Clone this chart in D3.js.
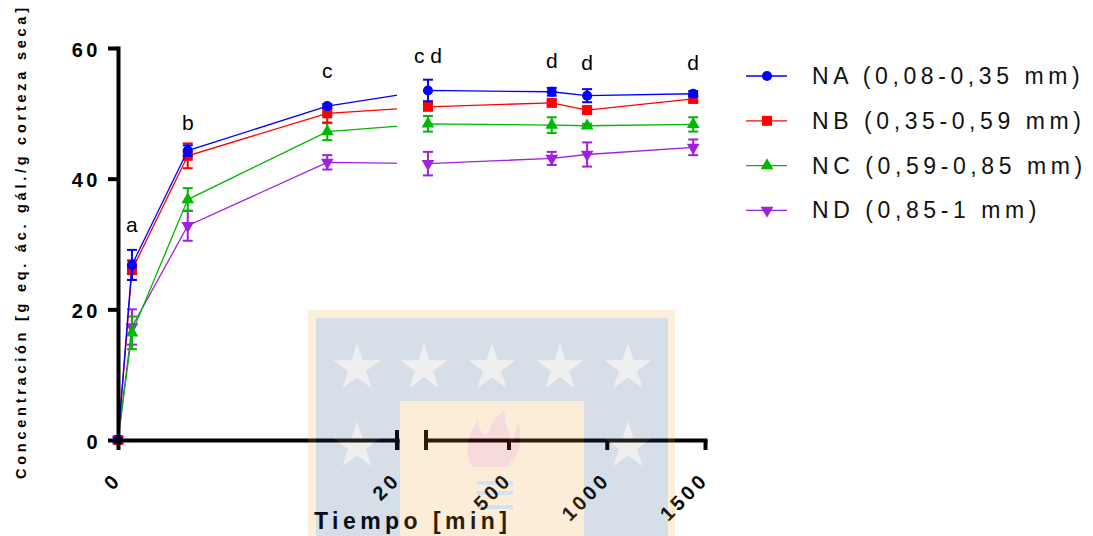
<!DOCTYPE html>
<html>
<head>
<meta charset="utf-8">
<script src="https://cdn.jsdelivr.net/npm/d3@7"></script>
<style>
  body { margin: 0; background: #fff; }
  svg { display: block; font-family: "Liberation Sans", Arial, sans-serif; }
</style>
</head>
<body>
<div id="chart"></div>
<script>
// sampling times [min]
const times = [0, 1, 5, 15, 90, 720, 900, 1440];

// mean concentration and error per particle size
const naMean = [0, 26.8, 44.3, 51.1, 53.5, 53.3, 52.7, 53.0];
const naErr  = [0, 2.3, 0.8, 0.3, 1.65, 0.6, 1.0, 0.4];
const nbMean = [0, 26.0, 43.5, 50.0, 51.0, 51.6, 50.5, 52.2];
const nbErr  = [0, 1.5, 1.9, 1.4, 0.4, 0.4, 0.4, 0.4];
const ncMean = [0, 16.4, 36.8, 47.2, 48.4, 48.2, 48.1, 48.3];
const ncErr  = [0, 2.5, 1.75, 1.3, 1.2, 1.2, 0.3, 1.1];
const ndMean = [0, 17.3, 32.8, 42.5, 42.3, 43.1, 43.7, 44.8];
const ndErr  = [0, 2.7, 2.3, 1.1, 1.8, 1.0, 1.85, 1.2];

const seriesNames = ['NA (0,08-0,35 mm)', 'NB (0,35-0,59 mm)', 'NC (0,59-0,85 mm)', 'ND (0,85-1 mm)'];

// significance letters and the value they sit at
const groupLetters = ['', 'a', 'b', 'c', 'c d', 'd', 'd', 'd'];
const letterY = [null, 31.9, 47.4, 55.4, 57.7, 56.9, 56.6, 56.6];

const yTicks = [0, 20, 40, 60];
const xTicksLeft = [0, 20];
const xTicksRight = [500, 1000, 1500];

const width = 1093, height = 536;
const colors = ['#0000ff', '#ff0000', '#00b800', '#a020e0'];
const shapes = [d3.symbolCircle, d3.symbolSquare, d3.symbolTriangle, d3.symbolTriangle];
const sizes = [80, 100, 70, 70];

const series = [naMean, nbMean, ncMean, ndMean].map((m, i) => ({
  name: seriesNames[i],
  color: colors[i],
  shape: shapes[i],
  size: sizes[i],
  flip: i === 3,
  values: times.map((t, j) => ({t, v: m[j], e: [naErr, nbErr, ncErr, ndErr][i][j]}))
}));

const svg = d3.select('#chart').append('svg')
  .attr('width', width)
  .attr('height', height);

// broken x axis: two linear pieces
const xLeft = d3.scaleLinear().domain([0, 20]).range([118, 397]);
const xRight = d3.scaleLinear().domain([80, 1500]).range([426, 705]);
const x = t => (t <= 20 ? xLeft(t) : xRight(t));
const y = d3.scaleLinear().domain([0, 60]).range([440, 48]);

// lines are cut out in the gap of the axis break
const clip = svg.append('clipPath').attr('id', 'brk');
clip.append('rect').attr('x', 0).attr('y', 0).attr('width', xLeft(20)).attr('height', height);
clip.append('rect').attr('x', xRight(80)).attr('y', 0).attr('width', width).attr('height', height);

const plot = svg.append('g');

// draw last series first so NA is on top
series.slice().reverse().forEach(s => {
  const g = plot.append('g');
  g.append('path')
    .datum(s.values)
    .attr('clip-path', 'url(#brk)')
    .attr('fill', 'none')
    .attr('stroke', s.color)
    .attr('stroke-width', 1.3)
    .attr('d', d3.line().x(d => x(d.t)).y(d => y(d.v)));

  const eb = g.selectAll('.eb').data(s.values.filter(d => d.e > 0)).join('g')
    .attr('stroke', s.color).attr('stroke-width', 2);
  eb.append('line')
    .attr('x1', d => x(d.t)).attr('x2', d => x(d.t))
    .attr('y1', d => y(d.v - d.e)).attr('y2', d => y(d.v + d.e));
  eb.append('line')
    .attr('x1', d => x(d.t) - 5).attr('x2', d => x(d.t) + 5)
    .attr('y1', d => y(d.v + d.e)).attr('y2', d => y(d.v + d.e));
  eb.append('line')
    .attr('x1', d => x(d.t) - 5).attr('x2', d => x(d.t) + 5)
    .attr('y1', d => y(d.v - d.e)).attr('y2', d => y(d.v - d.e));

  g.selectAll('.pt').data(s.values).join('path')
    .attr('fill', s.color)
    .attr('transform', d => `translate(${x(d.t)},${y(d.v)})${s.flip ? ' rotate(180)' : ''}`)
    .attr('d', d3.symbol().type(s.shape).size(s.size));
});

// letters over the groups
plot.selectAll('.lt').data(times.map((t, i) => ({t, txt: groupLetters[i], v: letterY[i]})).filter(d => d.txt))
  .join('text')
  .attr('x', d => x(d.t))
  .attr('y', d => y(d.v))
  .attr('text-anchor', 'middle')
  .attr('font-size', 21)
  .attr('fill', '#000')
  .text(d => d.txt);

// axes
const axisStyle = g => {
  g.select('.domain').attr('stroke-width', 4).attr('stroke-linecap', 'square');
  g.selectAll('.tick line').attr('stroke-width', 4);
  g.selectAll('text').attr('font-size', 20).attr('font-weight', 'bold')
    .attr('fill', '#000').style('letter-spacing', '3.5px');
};

svg.append('g')
  .attr('transform', `translate(${xLeft(0)},0)`)
  .call(d3.axisLeft(y).tickValues(yTicks).tickSize(10).tickSizeOuter(0).tickFormat(d3.format('d')))
  .call(axisStyle)
  .call(g => g.selectAll('text').attr('x', -17).attr('dy', '0.4em'));

const tickLabels = g => g.selectAll('text')
  .attr('text-anchor', 'end')
  .attr('x', null).attr('y', null).attr('dy', null)
  .attr('transform', 'translate(4,41) rotate(-45)');

svg.append('g')
  .attr('transform', `translate(0,${y(0)})`)
  .call(d3.axisBottom(xLeft).tickValues(xTicksLeft).tickSize(10).tickSizeOuter(0).tickFormat(d3.format('d')))
  .call(axisStyle)
  .call(tickLabels);

svg.append('g')
  .attr('transform', `translate(0,${y(0)})`)
  .call(d3.axisBottom(xRight).tickValues(xTicksRight).tickSize(10).tickSizeOuter(0).tickFormat(d3.format('d')))
  .call(axisStyle)
  .call(tickLabels);

// break caps on both sides of the gap
svg.selectAll('.cap').data([xLeft(20), xRight(80)]).join('line')
  .attr('x1', d => d).attr('x2', d => d)
  .attr('y1', y(0) - 10).attr('y2', y(0) + 10)
  .attr('stroke', '#000').attr('stroke-width', 4);

// axis titles
svg.append('text')
  .attr('transform', 'translate(26,479) rotate(-90)')
  .attr('font-size', 14.5).attr('font-weight', 'bold')
  .attr('textLength', 471).attr('lengthAdjust', 'spacing')
  .text('Concentración [g eq. ác. gál./g corteza seca]');

svg.append('text')
  .attr('x', 314).attr('y', 529)
  .attr('font-size', 23).attr('font-weight', 'bold')
  .attr('textLength', 193).attr('lengthAdjust', 'spacing')
  .text('Tiempo [min]');

// legend
const legend = svg.append('g').attr('transform', 'translate(746,76)');
const rows = legend.selectAll('g').data(series).join('g')
  .attr('transform', (d, i) => `translate(0,${i * 44.8})`);
rows.append('line')
  .attr('x1', 0).attr('x2', 41)
  .attr('stroke', d => d.color).attr('stroke-width', 1.3);
rows.append('path')
  .attr('transform', d => `translate(21,0)${d.flip ? ' rotate(180)' : ''}`)
  .attr('fill', d => d.color)
  .attr('d', d => d3.symbol().type(d.shape).size(d.size)());
const legText = rows.append('text')
  .attr('x', 66).attr('y', 8)
  .attr('font-size', 23).attr('fill', '#111')
  .text(d => d.name);
const natural = legText.node().getComputedTextLength();
legText.style('letter-spacing', `${(270 - natural) / 16.5}px`);

// university watermark laid over the figure
const wm = svg.append('g').attr('opacity', 0.18);
wm.append('rect').attr('x', 308).attr('y', 310).attr('width', 367).attr('height', 226).attr('fill', '#f4b13d');
wm.append('rect').attr('x', 316).attr('y', 318).attr('width', 352).attr('height', 218).attr('fill', '#214d85');
const starRow = [357, 424, 492, 560, 628];
const star = d3.symbol().type(d3.symbolStar).size(700);
wm.selectAll('.s1').data(starRow).join('path')
  .attr('transform', d => `translate(${d},368)`).attr('d', star).attr('fill', '#a8a8a8');
wm.selectAll('.s2').data([357, 628]).join('path')
  .attr('transform', d => `translate(${d},446)`).attr('d', star).attr('fill', '#a8a8a8');
wm.append('rect').attr('x', 400).attr('y', 401).attr('width', 184).attr('height', 135).attr('fill', '#f4a02c');
wm.append('path')
  .attr('fill', '#d0203a')
  .attr('opacity', 0.8)
  .attr('d', 'M472,467 C462,448 470,432 478,420 C480,434 486,440 490,428 C494,418 500,412 506,410 ' +
    'C502,424 512,432 510,446 C515,440 516,430 518,422 C524,442 518,458 506,467 Z');
wm.selectAll('.st').data([481, 491, 505]).join('rect')
  .attr('x', 477).attr('y', d => d).attr('width', 36).attr('height', 4).attr('fill', '#2060b0');
</script>
</body>
</html>
